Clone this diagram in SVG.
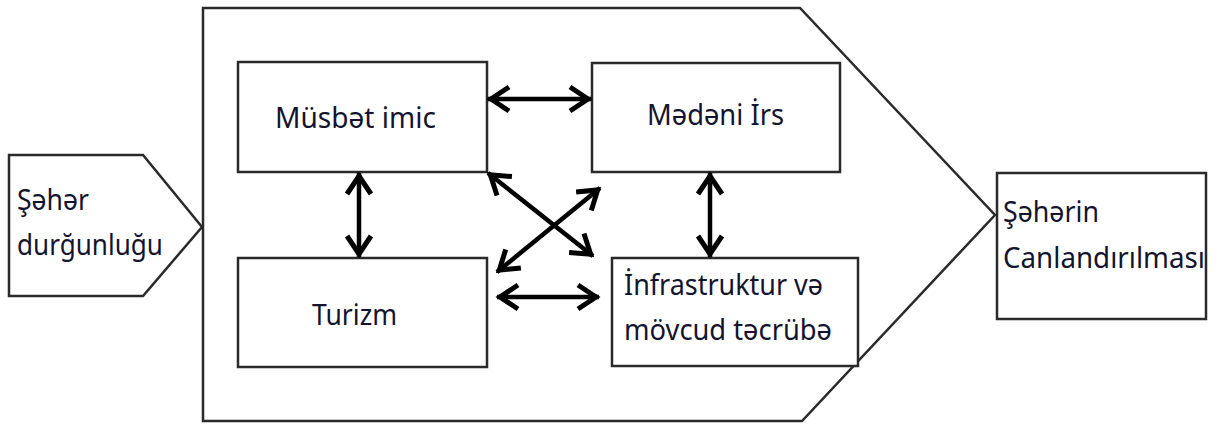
<svg xmlns="http://www.w3.org/2000/svg" width="1223" height="428" viewBox="0 0 1223 428">
<style>
.shape{fill:#fff;stroke:#2a2a2a;stroke-width:2.5}
.lbl{font-family:"Noto Sans","Open Sans","DejaVu Sans",sans-serif;font-size:29px;fill:#14142e}
.arr{stroke:#000;stroke-width:4.5;fill:none;marker-start:url(#ah);marker-end:url(#ah)}
</style>
<defs>
<marker id="ah" markerUnits="userSpaceOnUse" markerWidth="32" markerHeight="32" viewBox="-27 -16 32 32" refX="0" refY="0" orient="auto-start-reverse">
<path d="M-21,-12 L-3,0 L-21,12" fill="none" stroke="#000" stroke-width="5"/>
</marker>
</defs>
<rect width="1223" height="428" fill="#fff"/>
<g id="frame">
<polygon class="shape" points="203,8 800,8 995,215 802,421 203,421"/>
</g>
<g id="node-sahar-durgunlugu">
<polygon class="shape" points="9,155 143,155 202,227 143,296 9,296"/>
<text class="lbl" x="17" y="210" textLength="72" lengthAdjust="spacingAndGlyphs">Şəhər</text>
<text class="lbl" x="17" y="255" textLength="146" lengthAdjust="spacingAndGlyphs">durğunluğu</text>
</g>
<g id="node-musbet-imic">
<rect class="shape" x="238" y="62" width="249" height="110"/>
<text class="lbl" x="275" y="128" textLength="161" lengthAdjust="spacingAndGlyphs">Müsbət imic</text>
</g>
<g id="node-medeni-irs">
<rect class="shape" x="592" y="63" width="248" height="109"/>
<text class="lbl" x="647" y="125" textLength="137" lengthAdjust="spacingAndGlyphs">Mədəni İrs</text>
</g>
<g id="node-turizm">
<rect class="shape" x="238" y="258" width="249" height="109"/>
<text class="lbl" x="312" y="325" textLength="85" lengthAdjust="spacingAndGlyphs">Turizm</text>
</g>
<g id="node-infrastruktur">
<rect class="shape" x="612" y="258" width="246" height="108"/>
<text class="lbl" x="624" y="295" textLength="199" lengthAdjust="spacingAndGlyphs">İnfrastruktur və</text>
<text class="lbl" x="624" y="340" textLength="208" lengthAdjust="spacingAndGlyphs">mövcud təcrübə</text>
</g>
<g id="node-saharin-canlandirilmasi">
<rect class="shape" x="997" y="173" width="209" height="146"/>
<text class="lbl" x="1003" y="222" textLength="96" lengthAdjust="spacingAndGlyphs">Şəhərin</text>
<text class="lbl" x="1003" y="268" textLength="202" lengthAdjust="spacingAndGlyphs">Canlandırılması</text>
</g>
<g id="connectors">
<line class="arr" x1="488" y1="99" x2="591" y2="99"/>
<line class="arr" x1="359" y1="173" x2="359" y2="257"/>
<line class="arr" x1="710" y1="173" x2="710" y2="257"/>
<line class="arr" x1="497" y1="297" x2="599" y2="297"/>
<line class="arr" x1="488" y1="173" x2="593" y2="256"/>
<line class="arr" x1="600" y1="188" x2="497" y2="272"/>
</g>
</svg>
